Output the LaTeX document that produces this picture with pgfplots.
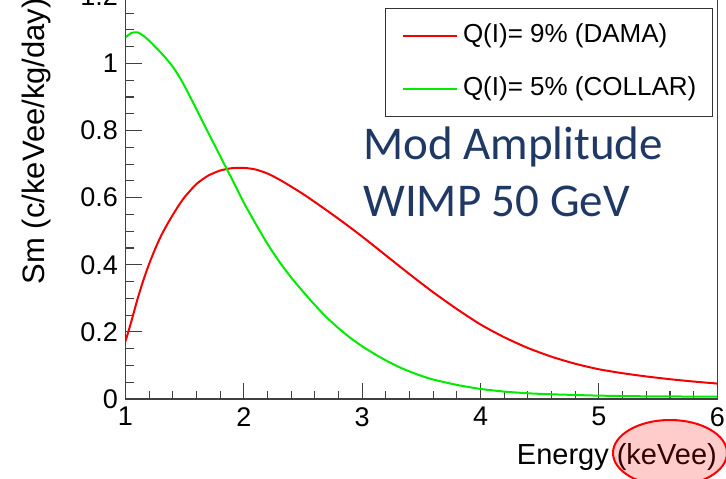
\documentclass[border=0pt]{standalone}
\usepackage{pgfplots}
\pgfplotsset{compat=1.18}
\usepackage{fontspec}
\setmainfont{Liberation Sans}
\newfontfamily\carlito{Carlito}
\definecolor{annot}{RGB}{31,56,100}
\definecolor{rootgreen}{RGB}{0,235,0}
\definecolor{rootred}{RGB}{245,0,0}

\pgfplotstableread{
x y
1.00 0.172
1.05 0.232
1.10 0.296
1.15 0.353
1.20 0.403
1.25 0.447
1.30 0.486
1.35 0.519
1.40 0.549
1.45 0.577
1.50 0.602
1.60 0.641
1.70 0.666
1.80 0.681
1.90 0.688
2.00 0.689
2.10 0.684
2.20 0.672
2.30 0.654
2.40 0.633
2.50 0.611
2.60 0.587
2.80 0.537
3.00 0.484
3.20 0.428
3.40 0.372
3.60 0.318
3.80 0.268
4.00 0.222
4.20 0.184
4.40 0.152
4.60 0.126
4.80 0.105
5.00 0.0886
5.20 0.0768
5.40 0.0672
5.60 0.0590
5.80 0.0520
6.00 0.046
}\dama

\pgfplotstableread{
x y
1.00 1.078
1.05 1.091
1.10 1.093
1.15 1.083
1.20 1.068
1.25 1.050
1.30 1.032
1.35 1.012
1.40 0.990
1.45 0.963
1.50 0.932
1.55 0.898
1.60 0.863
1.70 0.793
1.80 0.724
1.90 0.655
2.00 0.585
2.10 0.522
2.20 0.462
2.30 0.409
2.40 0.362
2.50 0.320
2.60 0.280
2.70 0.243
2.80 0.211
2.90 0.182
3.00 0.157
3.10 0.135
3.20 0.115
3.30 0.097
3.40 0.082
3.50 0.069
3.60 0.058
3.80 0.042
4.00 0.030
4.20 0.022
4.40 0.017
4.60 0.014
4.80 0.012
5.00 0.010
5.40 0.008
6.00 0.007
}\collar

\begin{document}
\begin{tikzpicture}
\useasboundingbox (0pt,0pt) rectangle (726pt,479pt);
\clip (0pt,0pt) rectangle (726pt,479pt);
\begin{axis}[
  at={(125.5pt,80pt)}, anchor=south west,
  scale only axis, width=591.8pt, height=405.96pt,
  xmin=1, xmax=6, ymin=0, ymax=1.21,
  xtick={1,2,3,4,5,6}, ytick={0,0.2,0.4,0.6,0.8,1,1.2},
  minor x tick num=4, minor y tick num=3,
  tick pos=left, tick align=inside,
  major tick length=16pt, minor tick length=8pt,
  axis line style={black!75, line width=1.2pt},
  tick style={black!75, line width=1.1pt},
  /pgf/number format/assume math mode=true,
  ticklabel style={font=\fontsize{27}{30}\selectfont, text=black},
  yticklabel style={inner sep=0pt, xshift=-7.5pt},
  xticklabel style={inner sep=0pt, yshift=-8pt},
  legend style={at={(0.4385,0.9624)}, anchor=north west, draw=black!80, line width=1pt, fill=white,
    inner xsep=16.5pt, inner ysep=15pt, row sep=28pt, column sep=5pt,
    font=\fontsize{26}{30}\selectfont,
    nodes={inner sep=0pt, text height=19pt, text depth=6pt}},
  legend cell align=left,
  legend image code/.code={\draw[#1, line width=2pt] (0pt,0pt) -- (54pt,0pt);},
]
\addplot[rootred, line width=2pt, smooth, tension=0.4] table[x=x,y=y] {\dama};
\addlegendentry{Q(I)= 9\% (DAMA)}
\addplot[rootgreen, line width=2pt, smooth, tension=0.4] table[x=x,y=y] {\collar};
\addlegendentry{Q(I)= 5\% (COLLAR)}
\end{axis}
\node[anchor=base west, text=annot, font=\carlito\fontsize{47}{56}\selectfont, inner sep=0pt] at (363pt,319pt) {Mod Amplitude};
\node[anchor=base west, text=annot, font=\carlito\fontsize{47}{56}\selectfont, inner sep=0pt] at (363pt,262.3pt) {WIMP 50 GeV};
\node[rotate=90, anchor=base east, font=\fontsize{31}{34}\selectfont, inner sep=0pt] at (45pt,481pt) {Sm (c/keVee/kg/day)};
\node[anchor=base east, font=\fontsize{29}{34}\selectfont, inner sep=0pt] at (717pt,14pt) {Energy (keVee)};
\filldraw[fill=red, fill opacity=0.2, draw=red, line width=2pt] (670pt,26pt) ellipse [x radius=57pt, y radius=33pt];
\end{tikzpicture}
\end{document}
